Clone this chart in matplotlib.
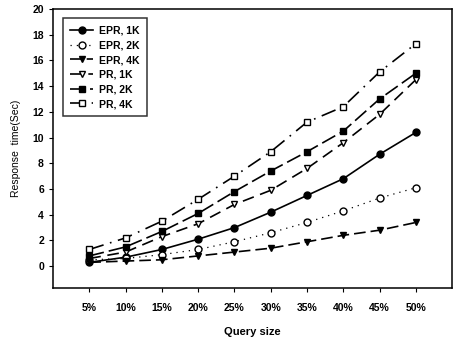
import matplotlib
matplotlib.use("Agg")
import matplotlib.pyplot as plt

categories = ["5%", "10%", "15%", "20%", "25%", "30%", "35%", "40%", "45%", "50%"]
epr_1k = [0.3, 0.7, 1.3, 2.1, 3.0, 4.2, 5.5, 6.8, 8.7, 10.4]
epr_2k = [0.5, 0.6, 0.9, 1.3, 1.9, 2.6, 3.4, 4.3, 5.3, 6.1]
epr_4k = [0.3, 0.4, 0.5, 0.8, 1.1, 1.4, 1.9, 2.4, 2.8, 3.4]
pr_1k = [0.6, 1.1, 2.3, 3.3, 4.8, 5.9, 7.6, 9.6, 11.8, 14.5]
pr_2k = [0.8, 1.5, 2.7, 4.1, 5.8, 7.4, 8.9, 10.5, 13.0, 15.0]
pr_4k = [1.3, 2.2, 3.5, 5.2, 7.0, 8.9, 11.2, 12.4, 15.1, 17.3]
yticks = [0, 2, 4, 6, 8, 10, 12, 14, 16, 18, 20]

plt.rcParams['font.family'] = ['Liberation Sans', 'DejaVu Sans']
plt.rcParams['font.weight'] = 'bold'

fig = plt.figure(figsize=(4.53, 3.45), dpi=100)
ax = fig.add_axes([0.117, 0.165, 0.881, 0.809])

x = list(range(len(categories)))
ms = 5
lw = 1.2
ax.plot(x, epr_1k, color='black', lw=lw, ls='-', marker='o', ms=ms, mfc='black', label='EPR, 1K')
ax.plot(x, epr_2k, color='black', lw=0.9, ls=(0, (1, 4)), marker='o', ms=ms, mfc='white', label='EPR, 2K')
ax.plot(x, epr_4k, color='black', lw=lw, ls=(0, (7, 3)), marker='v', ms=ms, mfc='black', label='EPR, 4K')
ax.plot(x, pr_1k, color='black', lw=lw, ls=(0, (7, 4)), marker='v', ms=ms, mfc='white', label='PR, 1K')
ax.plot(x, pr_2k, color='black', lw=lw, ls=(0, (9, 3)), marker='s', ms=ms, mfc='black', label='PR, 2K')
ax.plot(x, pr_4k, color='black', lw=lw, ls=(0, (9, 4, 1, 4)), marker='s', ms=ms, mfc='white', label='PR, 4K')

ax.set_xlim(-1, 10)
ax.set_ylim(-1.7, 20)
ax.set_xticks(x)
ax.set_xticklabels(categories)
ax.set_yticks(yticks)
ax.tick_params(labelsize=7.5, length=3, width=0.8, direction='out')
ax.tick_params(axis='x', pad=8)
ax.set_xlabel('Query size', fontsize=8, fontweight='bold', labelpad=10)
ax.set_ylabel('Response  time(Sec)', fontsize=7.5, labelpad=8)
for s in ax.spines.values():
    s.set_linewidth(1.1)

leg = ax.legend(loc='upper left', bbox_to_anchor=(0.012, 0.985), fontsize=7.5, handlelength=2.2,
                frameon=True, fancybox=False, edgecolor='black', labelspacing=0.45,
                borderpad=0.7, handletextpad=0.6)
leg.get_frame().set_linewidth(1.1)

fig.savefig('out.png', dpi=100)
